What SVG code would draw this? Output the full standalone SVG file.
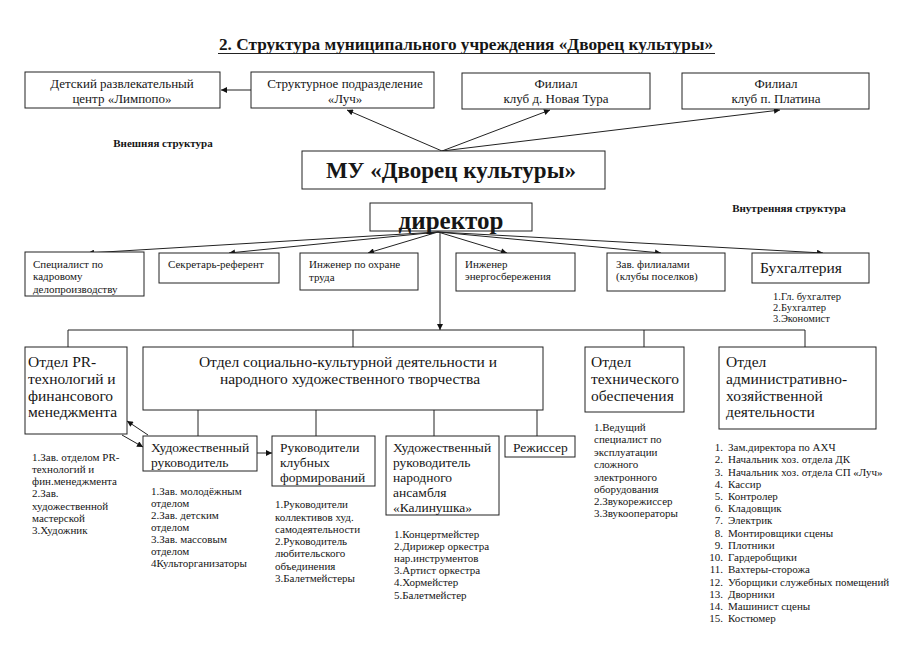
<svg xmlns="http://www.w3.org/2000/svg" width="900" height="655" viewBox="0 0 900 655" font-family="'Liberation Serif', 'Times New Roman', serif">
<style>
text{font-family:'Liberation Serif','Times New Roman',serif;fill:#161616}
.box{fill:#fff;stroke:#222;stroke-width:1}
.ln{fill:none;stroke:#222;stroke-width:1}
.arr{fill:none;stroke:#222;stroke-width:1;marker-end:url(#ah)}
.f13{font-size:13px}
.f11{font-size:11px}
.f10{font-size:10.5px}
.f14{font-size:13.5px}
.f16{font-size:15.5px}
.c{text-anchor:middle}
.b{font-weight:bold}
</style>
<defs>
<marker id="ah" viewBox="0 0 10 10" refX="10" refY="5" markerWidth="7" markerHeight="6" orient="auto"><path d="M0,0 L10,5 L0,10 z" fill="#111"/></marker>
</defs>
<rect width="900" height="655" fill="#fff"/>

<g id="title">
<text x="466" y="50" class="c b" font-size="17" textLength="494" lengthAdjust="spacingAndGlyphs">2. Структура муниципального учреждения «Дворец культуры»</text>
<line x1="218" y1="53.5" x2="715" y2="53.5" stroke="#222" stroke-width="1.2"/>
</g>

<g id="connectors">
<line class="arr" x1="251" y1="90" x2="221" y2="90"/>
<line class="arr" x1="442" y1="151" x2="347" y2="110"/>
<line class="arr" x1="442" y1="151" x2="550" y2="110"/>
<line class="arr" x1="442" y1="151" x2="780" y2="110"/>
<line class="arr" x1="438" y1="232" x2="88" y2="253"/>
<line class="arr" x1="438" y1="232" x2="229" y2="253"/>
<line class="arr" x1="438" y1="232" x2="368" y2="253"/>
<line class="arr" x1="438" y1="232" x2="507" y2="253"/>
<line class="arr" x1="438" y1="232" x2="661" y2="253"/>
<line class="arr" x1="438" y1="232" x2="823" y2="253"/>
<line class="arr" x1="440" y1="232" x2="440" y2="330"/>
<polyline class="ln" points="68,347 68,330 805,330 805,347"/>
<line class="ln" x1="353" y1="330" x2="353" y2="347"/>
<line class="ln" x1="644" y1="330" x2="644" y2="347"/>
<line class="ln" x1="198" y1="410" x2="198" y2="436"/>
<line class="ln" x1="316" y1="410" x2="316" y2="436"/>
<line class="ln" x1="434" y1="410" x2="434" y2="436"/>
<line class="ln" x1="537" y1="410" x2="537" y2="436"/>
<line class="arr" x1="148" y1="435" x2="127" y2="421"/>
<line class="arr" x1="122" y1="435" x2="143" y2="447"/>
<line class="arr" x1="257" y1="453" x2="272" y2="453"/>
</g>

<g id="limpopo">
<rect class="box" x="25" y="72" width="195" height="36"/>
<text x="122" y="88" class="c f13">Детский развлекательный</text>
<text x="122" y="103" class="c f13">центр «Лимпопо»</text>
</g>
<g id="luch">
<rect class="box" x="251" y="72" width="183" height="36"/>
<text x="345" y="88" class="c f13">Структурное подразделение</text>
<text x="345" y="103" class="c f13">«Луч»</text>
</g>
<g id="novaya-tura">
<rect class="box" x="462" y="73" width="188" height="36"/>
<text x="556" y="88" class="c f13">Филиал</text>
<text x="556" y="103" class="c f13">клуб д. Новая Тура</text>
</g>
<g id="platina">
<rect class="box" x="682" y="73" width="187" height="36"/>
<text x="776" y="88" class="c f13">Филиал</text>
<text x="776" y="103" class="c f13">клуб п. Платина</text>
</g>

<text x="163" y="147" class="c b f11">Внешняя структура</text>
<text x="789" y="212" class="c b f11">Внутренняя структура</text>

<g id="mu">
<rect class="box" x="302" y="151" width="303" height="38"/>
<text x="451" y="178" class="c b" font-size="23">МУ «Дворец культуры»</text>
</g>
<g id="director">
<rect class="box" x="370" y="203" width="162" height="28"/>
<text x="451" y="229" class="c b" font-size="25">директор</text>
</g>

<g id="kadry">
<rect class="box" x="25" y="252" width="119" height="44"/>
<text x="33" y="268" class="f11">Специалист по</text>
<text x="33" y="280" class="f11">кадровому</text>
<text x="33" y="293" class="f11">делопроизводству</text>
</g>
<g id="secretar">
<rect class="box" x="159" y="253" width="120" height="30"/>
<text x="168" y="268" class="f11">Секретарь-референт</text>
</g>
<g id="ohrana">
<rect class="box" x="300" y="253" width="118" height="37"/>
<text x="309" y="268" class="f11">Инженер по охране</text>
<text x="309" y="281" class="f11">труда</text>
</g>
<g id="energo">
<rect class="box" x="456" y="253" width="119" height="38"/>
<text x="465" y="268" class="f11">Инженер</text>
<text x="465" y="280" class="f11">энергосбережения</text>
</g>
<g id="filialy">
<rect class="box" x="607" y="253" width="118" height="38"/>
<text x="616" y="268" class="f11">Зав. филиалами</text>
<text x="616" y="280" class="f11">(клубы поселков)</text>
</g>
<g id="buh">
<rect class="box" x="752" y="253" width="117" height="30"/>
<text x="760" y="273" class="f16">Бухгалтерия</text>
<text x="773" y="300" class="f10">1.Гл. бухгалтер</text>
<text x="773" y="311" class="f10">2.Бухгалтер</text>
<text x="773" y="322" class="f10">3.Экономист</text>
</g>

<g id="pr">
<rect class="box" x="25" y="347" width="102" height="87"/>
<text x="28" y="367" class="f16">Отдел PR-</text>
<text x="28" y="384" class="f16">технологий и</text>
<text x="28" y="401" class="f16">финансового</text>
<text x="28" y="417" class="f16">менеджмента</text>
<text class="f11"><tspan x="32" y="461">1.Зав. отделом PR-</tspan><tspan x="32" y="473">технологий и</tspan><tspan x="32" y="485">фин.менеджмента</tspan><tspan x="32" y="497">2.Зав.</tspan><tspan x="32" y="510">художественной</tspan><tspan x="32" y="522">мастерской</tspan><tspan x="32" y="534">3.Художник</tspan></text>
</g>
<g id="social">
<rect class="box" x="143" y="347" width="400" height="63"/>
<text x="348" y="367" class="c f16">Отдел социально-культурной деятельности и</text>
<text x="350" y="384" class="c f16">народного художественного творчества</text>
</g>
<g id="tech">
<rect class="box" x="585" y="347" width="99" height="65"/>
<text x="591" y="367" class="f16">Отдел</text>
<text x="591" y="384" class="f16">технического</text>
<text x="591" y="401" class="f16">обеспечения</text>
<text class="f11"><tspan x="594" y="431">1.Ведущий</tspan><tspan x="594" y="443">специалист по</tspan><tspan x="594" y="456">эксплуатации</tspan><tspan x="594" y="468">сложного</tspan><tspan x="594" y="481">электронного</tspan><tspan x="594" y="493">оборудования</tspan><tspan x="594" y="505">2.Звукорежиссер</tspan><tspan x="594" y="517">3.Звукооператоры</tspan></text>
</g>
<g id="admin">
<rect class="box" x="719" y="347" width="157" height="82"/>
<text x="726" y="367" class="f16">Отдел</text>
<text x="726" y="384" class="f16">административно-</text>
<text x="726" y="401" class="f16">хозяйственной</text>
<text x="726" y="417" class="f16">деятельности</text>
<g class="f11">
<text x="723" y="451" text-anchor="end">1.</text><text x="728" y="451">Зам.директора по АХЧ</text>
<text x="723" y="463" text-anchor="end">2.</text><text x="728" y="463">Начальник хоз. отдела ДК</text>
<text x="723" y="476" text-anchor="end">3.</text><text x="728" y="476">Начальник хоз. отдела СП «Луч»</text>
<text x="723" y="488" text-anchor="end">4.</text><text x="728" y="488">Кассир</text>
<text x="723" y="500" text-anchor="end">5.</text><text x="728" y="500">Контролер</text>
<text x="723" y="512" text-anchor="end">6.</text><text x="728" y="512">Кладовщик</text>
<text x="723" y="524" text-anchor="end">7.</text><text x="728" y="524">Электрик</text>
<text x="723" y="537" text-anchor="end">8.</text><text x="728" y="537">Монтировщики сцены</text>
<text x="723" y="549" text-anchor="end">9.</text><text x="728" y="549">Плотники</text>
<text x="723" y="561" text-anchor="end">10.</text><text x="728" y="561">Гардеробщики</text>
<text x="723" y="573" text-anchor="end">11.</text><text x="728" y="573">Вахтеры-сторожа</text>
<text x="723" y="586" text-anchor="end">12.</text><text x="728" y="586">Уборщики служебных помещений</text>
<text x="723" y="598" text-anchor="end">13.</text><text x="728" y="598">Дворники</text>
<text x="723" y="610" text-anchor="end">14.</text><text x="728" y="610">Машинист сцены</text>
<text x="723" y="622" text-anchor="end">15.</text><text x="728" y="622">Костюмер</text>
</g>
</g>

<g id="hud-ruk">
<rect class="box" x="143" y="436" width="114" height="35"/>
<text x="151" y="452" class="f14">Художественный</text>
<text x="151" y="467" class="f14">руководитель</text>
<text class="f11"><tspan x="151" y="495">1.Зав. молодёжным</tspan><tspan x="151" y="507">отделом</tspan><tspan x="151" y="519">2.Зав. детским</tspan><tspan x="151" y="531">отделом</tspan><tspan x="151" y="543">3.Зав. массовым</tspan><tspan x="151" y="555">отделом</tspan><tspan x="151" y="567">4Культорганизаторы</tspan></text>
</g>
<g id="klub">
<rect class="box" x="272" y="436" width="103" height="50"/>
<text x="280" y="452" class="f14">Руководители</text>
<text x="280" y="467" class="f14">клубных</text>
<text x="280" y="482" class="f14">формирований</text>
<text class="f11"><tspan x="275" y="508">1.Руководители</tspan><tspan x="275" y="521">коллективов худ.</tspan><tspan x="275" y="533">самодеятельности</tspan><tspan x="275" y="545">2.Руководитель</tspan><tspan x="275" y="557">любительского</tspan><tspan x="275" y="570">объединения</tspan><tspan x="275" y="582">3.Балетмейстеры</tspan></text>
</g>
<g id="kalinushka">
<rect class="box" x="386" y="436" width="113" height="79"/>
<text x="393" y="452" class="f14">Художественный</text>
<text x="393" y="467" class="f14">руководитель</text>
<text x="393" y="482" class="f14">народного</text>
<text x="393" y="497" class="f14">ансамбля</text>
<text x="393" y="512" class="f14">«Калинушка»</text>
<text class="f11"><tspan x="394" y="538">1.Концертмейстер</tspan><tspan x="394" y="550">2.Дирижер оркестра</tspan><tspan x="394" y="562">нар.инструментов</tspan><tspan x="394" y="574">3.Артист оркестра</tspan><tspan x="394" y="586">4.Хормейстер</tspan><tspan x="394" y="599">5.Балетмейстер</tspan></text>
</g>
<g id="rezhisser">
<rect class="box" x="505" y="436" width="70" height="21"/>
<text x="513" y="452" class="f14">Режиссер</text>
</g>
</svg>
